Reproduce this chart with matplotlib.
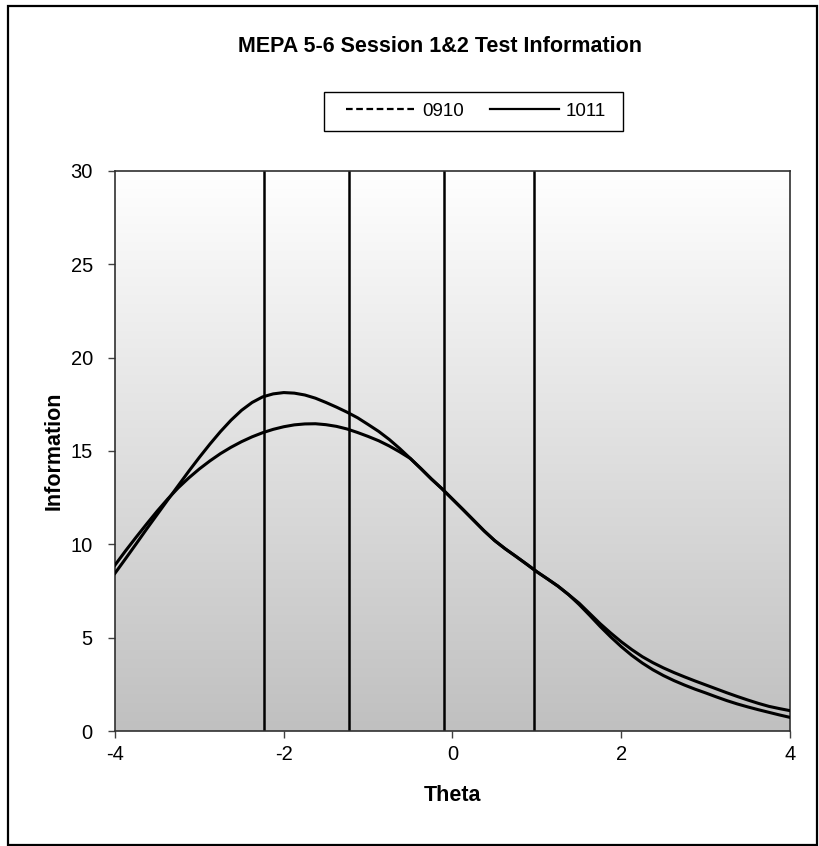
import matplotlib.pyplot as plt
import numpy as np
from matplotlib.colors import LinearSegmentedColormap
from matplotlib.lines import Line2D
from matplotlib.patches import Rectangle

plt.rcParams["font.family"] = ["Liberation Sans", "DejaVu Sans"]
plt.rcParams["axes.unicode_minus"] = False

# ---------------------------------------------------------------------------
# data (theta every 0.125)
# ---------------------------------------------------------------------------
theta = [-4.0, -3.875, -3.75, -3.625, -3.5, -3.375, -3.25, -3.125,
         -3.0, -2.875, -2.75, -2.625, -2.5, -2.375, -2.25, -2.125,
         -2.0, -1.875, -1.75, -1.625, -1.5, -1.375, -1.25, -1.125,
         -1.0, -0.875, -0.75, -0.625, -0.5, -0.375, -0.25, -0.125,
         0.0, 0.125, 0.25, 0.375, 0.5, 0.625, 0.75, 0.875,
         1.0, 1.125, 1.25, 1.375, 1.5, 1.625, 1.75, 1.875,
         2.0, 2.125, 2.25, 2.375, 2.5, 2.625, 2.75, 2.875,
         3.0, 3.125, 3.25, 3.375, 3.5, 3.625, 3.75, 3.875,
         4.0]

info_0910 = [8.45, 9.23, 10.02, 10.82, 11.6, 12.38, 13.15, 13.92,
             14.66, 15.37, 16.04, 16.65, 17.18, 17.6, 17.9, 18.06,
             18.13, 18.1, 18.0, 17.83, 17.6, 17.35, 17.08, 16.78,
             16.42, 16.05, 15.62, 15.13, 14.6, 14.06, 13.5, 12.98,
             12.42, 11.86, 11.29, 10.72, 10.2, 9.76, 9.36, 8.95,
             8.53, 8.15, 7.76, 7.31, 6.78, 6.2, 5.6, 5.04,
             4.52, 4.05, 3.64, 3.28, 2.97, 2.7, 2.46, 2.24,
             2.04, 1.83, 1.63, 1.45, 1.29, 1.14, 1.0, 0.86,
             0.73]

info_1011 = [8.89, 9.65, 10.38, 11.09, 11.78, 12.43, 13.03, 13.56,
             14.04, 14.47, 14.86, 15.2, 15.5, 15.76, 15.98, 16.16,
             16.3, 16.4, 16.45, 16.46, 16.41, 16.32, 16.18, 15.99,
             15.78, 15.55, 15.27, 14.95, 14.6, 14.06, 13.5, 12.98,
             12.42, 11.86, 11.29, 10.72, 10.2, 9.76, 9.36, 8.95,
             8.53, 8.15, 7.76, 7.31, 6.85, 6.3, 5.75, 5.25,
             4.78, 4.36, 3.98, 3.66, 3.38, 3.13, 2.9, 2.68,
             2.47, 2.26, 2.05, 1.85, 1.66, 1.48, 1.32, 1.2,
             1.09]

cut_points = [-2.23, -1.23, -0.10, 0.966]

series_names = ["0910", "1011"]

x_ticks = [-4, -2, 0, 2, 4]
y_ticks = [0, 5, 10, 15, 20, 25, 30]

W, H = 819, 846

fig = plt.figure(figsize=(W / 100, H / 100), dpi=100)
ax = fig.add_axes([115 / W, 1 - 731 / H, 675 / W, 560 / H])

# grey gradient background: white at the top, light grey at the bottom
bg_cmap = LinearSegmentedColormap.from_list("bg", ["#ffffff", "#c0c0c0"])
grad = np.linspace(0, 1, 256).reshape(-1, 1)
ax.imshow(grad, cmap=bg_cmap, aspect="auto",
          extent=[-4, 4, 0, 30], origin="upper", zorder=0)

for xc in cut_points:
    ax.axvline(xc, color="black", lw=1.8, zorder=2)

ax.plot(theta, info_0910, color="black", lw=2.2, zorder=3,
        solid_joinstyle="round")
ax.plot(theta, info_1011, color="black", lw=2.2, zorder=3,
        solid_joinstyle="round")

ax.set_xlim(-4, 4)
ax.set_ylim(0, 30)
ax.set_xticks(x_ticks)
ax.set_yticks(y_ticks)
ax.tick_params(direction="out", length=5, width=1, labelsize=14.5,
               color="#404040")
ax.tick_params(axis="x", pad=5)
ax.tick_params(axis="y", pad=11)
for side in ["left", "bottom", "right", "top"]:
    ax.spines[side].set_color("#303030")
    ax.spines[side].set_linewidth(1.2)

ax.set_xlabel("Theta", fontsize=15.5, fontweight="bold", labelpad=15)
ax.set_ylabel("Information", fontsize=15.5, fontweight="bold", labelpad=4.5)

fig.text(440 / W, 1 - 47 / H, "MEPA 5-6 Session 1&2 Test Information",
         ha="center", va="center", fontsize=15.5, fontweight="bold")

# legend box drawn separately so its padding matches the reference
fig.patches.append(Rectangle((324 / W, 1 - 131 / H), 299 / W, 39 / H,
                             transform=fig.transFigure, fill=False,
                             edgecolor="black", lw=1.0))
handles = [Line2D([], [], color="black", lw=1.6, ls=(0, (3, 1.6))),
           Line2D([], [], color="black", lw=1.6)]
fig.legend(handles, series_names, loc="center", ncol=2,
           bbox_to_anchor=(476 / W, 1 - 111 / H), fontsize=13.5,
           frameon=False, handlelength=3.7, columnspacing=1.4,
           handletextpad=0.35, borderpad=0.0)

fig.patches.append(Rectangle((8 / W, 1 - 845 / H), 809 / W, 839 / H,
                             transform=fig.transFigure, fill=False,
                             edgecolor="black", lw=1.6))

fig.savefig("out.png", dpi=100)
